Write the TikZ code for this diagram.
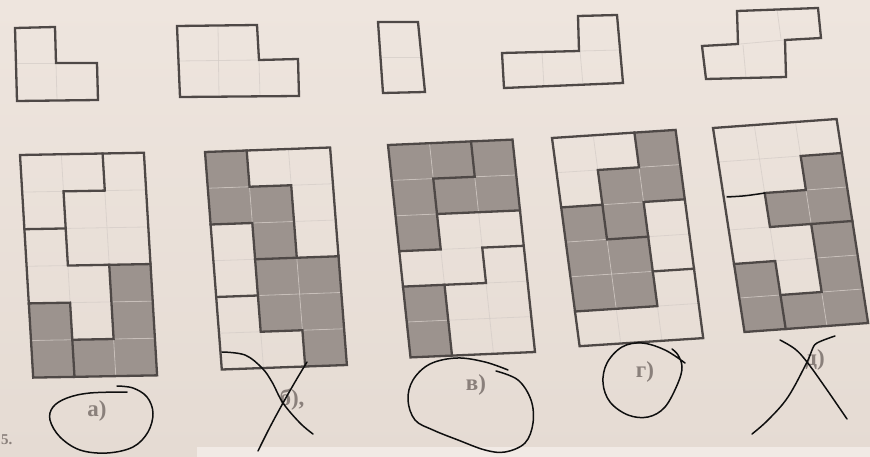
\documentclass[tikz,border=0pt]{standalone}
\usepackage{fontspec}
\setmainfont{Liberation Serif}
\definecolor{paperTop}{RGB}{238,229,222}
\definecolor{paperBot}{RGB}{229,219,211}
\definecolor{paperLight}{RGB}{241,234,229}
\definecolor{cellgrey}{RGB}{156,147,142}
\definecolor{inkline}{RGB}{78,72,70}
\definecolor{thinln}{RGB}{212,204,199}
\definecolor{printtext}{RGB}{138,128,123}
\definecolor{pen}{RGB}{15,15,15}
\tikzset{
  piecebord/.style={draw=inkline, line width=2.3pt, line join=miter, line cap=rect},
  gridthin/.style={draw=thinln, line width=0.8pt, opacity=0.7},
  greycell/.style={fill=cellgrey},
  penstroke/.style={draw=pen, line width=1.5pt, line cap=round, line join=round},
  lbl/.style={text=printtext, font=\bfseries\fontsize{23}{23}\selectfont, inner sep=0pt},
}
\begin{document}
\begin{tikzpicture}[x=1pt,y=-1pt]
\useasboundingbox (0,0) rectangle (870,457);
\shade[top color=paperTop, bottom color=paperBot] (0,0) rectangle (870,457);
\fill[paperLight] (197,447) rectangle (870,457);

% ---------- top pieces ----------
% piece 1
\draw[gridthin] (16,63) -- (56,63);
\draw[gridthin] (56,63) -- (57,100);
\draw[piecebord] (15,28) -- (55,27) -- (56,63) -- (97,63) -- (98,100) -- (17,101) -- cycle;
% piece 2
\draw[gridthin] (178,61) -- (259,60);
\draw[gridthin] (218,26) -- (219,97);
\draw[gridthin] (259,60) -- (260,97);
\draw[piecebord] (177,26) -- (257,25) -- (259,60) -- (298,59) -- (299,96) -- (180,97) -- cycle;
% piece 3
\draw[gridthin] (380,57) -- (421,57);
\draw[piecebord] (378,22) -- (418,22) -- (425,92) -- (383,93) -- cycle;
% piece 4
\draw[gridthin] (542,52) -- (544,87);
\draw[gridthin] (580,51) -- (583,85);
\draw[gridthin] (580,51) -- (620,50);
\draw[piecebord] (502,53) -- (579,51) -- (578,16) -- (617,15) -- (623,83) -- (504,88) -- cycle;
% piece 5
\draw[gridthin] (740,44) -- (785,40);
\draw[gridthin] (777,9) -- (781,39);
\draw[gridthin] (743,45) -- (746,78);
\draw[piecebord] (737,11) -- (818,8) -- (821,38) -- (785,40) -- (786,77) -- (706,79) -- (702,46) -- (738,44) -- cycle;

% ---------- grid a ----------
\begin{scope}[shift={(20pt,-155pt)}, x={(41.3pt,0.75pt)}, y={(2.2pt,-37.1pt)}]
\foreach \c/\r in {0/4,0/5,2/3,2/4,2/5,1/5}
  \fill[greycell] (\c,\r) -- ++(1,0) -- ++(0,1) -- ++(-1,0) -- cycle;
\foreach \i in {1,2} \draw[gridthin] (\i,0) -- (\i,6);
\foreach \j in {1,...,5} \draw[gridthin] (0,\j) -- (3,\j);
\draw[piecebord] (2,0) -- (2,1) -- (1,1) -- (1,3) -- (3,3);
\draw[piecebord] (0,2) -- (1,2);
\draw[piecebord] (2,3) -- (2,5) -- (1,5);
\draw[piecebord] (0,4) -- (1,4) -- (1,6);
\draw[piecebord] (0,0) -- (3,0) -- (3,6) -- (0,6) -- cycle;
\end{scope}

% ---------- grid b ----------
\begin{scope}[shift={(205pt,-152pt)}, x={(41.7pt,1.5pt)}, y={(2.8pt,-36.25pt)}]
\foreach \c/\r in {0/0,0/1,1/1,1/2,1/3,2/3,1/4,2/4,2/5}
  \fill[greycell] (\c,\r) -- ++(1,0) -- ++(0,1) -- ++(-1,0) -- cycle;
\foreach \i in {1,2} \draw[gridthin] (\i,0) -- (\i,6);
\foreach \j in {1,...,5} \draw[gridthin] (0,\j) -- (3,\j);
\draw[piecebord] (1,0) -- (1,1) -- (2,1) -- (2,3);
\draw[piecebord] (0,2) -- (1,2) -- (1,5) -- (2,5) -- (2,6);
\draw[piecebord] (1,3) -- (3,3);
\draw[piecebord] (0,4) -- (1,4);
\draw[piecebord] (0,0) -- (3,0) -- (3,6) -- (0,6) -- cycle;
\end{scope}

% ---------- grid c ----------
\begin{scope}[shift={(388pt,-145pt)}, x={(41.5pt,1.8pt)}, y={(3.75pt,-35.4pt)}]
\foreach \c/\r in {0/0,1/0,2/0,0/1,1/1,2/1,0/2,0/4,0/5}
  \fill[greycell] (\c,\r) -- ++(1,0) -- ++(0,1) -- ++(-1,0) -- cycle;
\foreach \i in {1,2} \draw[gridthin] (\i,0) -- (\i,6);
\foreach \j in {1,...,5} \draw[gridthin] (0,\j) -- (3,\j);
\draw[piecebord] (2,0) -- (2,1) -- (1,1) -- (1,3) -- (0,3);
\draw[piecebord] (1,2) -- (3,2);
\draw[piecebord] (3,3) -- (2,3) -- (2,4) -- (0,4);
\draw[piecebord] (1,4) -- (1,6);
\draw[piecebord] (0,0) -- (3,0) -- (3,6) -- (0,6) -- cycle;
\end{scope}

% ---------- grid d ----------
\begin{scope}[shift={(552pt,-138pt)}, x={(41.2pt,2.7pt)}, y={(4.6pt,-34.7pt)}]
\foreach \c/\r in {2/0,1/1,2/1,1/2,0/2,0/3,1/3,0/4,1/4}
  \fill[greycell] (\c,\r) -- ++(1,0) -- ++(0,1) -- ++(-1,0) -- cycle;
\foreach \i in {1,2} \draw[gridthin] (\i,0) -- (\i,6);
\foreach \j in {1,...,5} \draw[gridthin] (0,\j) -- (3,\j);
\draw[piecebord] (2,0) -- (2,1) -- (1,1) -- (1,3) -- (2,3);
\draw[piecebord] (0,2) -- (1,2);
\draw[piecebord] (3,2) -- (2,2) -- (2,5) -- (0,5);
\draw[piecebord] (2,4) -- (3,4);
\draw[piecebord] (0,0) -- (3,0) -- (3,6) -- (0,6) -- cycle;
\end{scope}

% ---------- grid e ----------
\begin{scope}[shift={(713pt,-128pt)}, x={(41.2pt,3pt)}, y={(5.25pt,-34pt)}]
\foreach \c/\r in {2/1,1/2,2/2,2/3,2/4,2/5,1/5,0/4,0/5}
  \fill[greycell] (\c,\r) -- ++(1,0) -- ++(0,1) -- ++(-1,0) -- cycle;
\foreach \i in {1,2} \draw[gridthin] (\i,0) -- (\i,6);
\foreach \j in {1,...,5} \draw[gridthin] (0,\j) -- (3,\j);
\draw[piecebord] (3,1) -- (2,1) -- (2,2) -- (1,2) -- (1,3) -- (3,3);
\draw[piecebord] (2,3) -- (2,5) -- (1,5);
\draw[piecebord] (0,4) -- (1,4) -- (1,6);
\draw[piecebord] (0,0) -- (3,0) -- (3,6) -- (0,6) -- cycle;
\end{scope}

% ---------- printed labels ----------
\node[lbl] (la) at (97,411) {а)};
\node[lbl] (lb) at (292,400) {б),};
\node[lbl] (lc) at (476,385) {в)};
\node[lbl] (ld) at (645,372) {г)};
\node[lbl] (le) at (815,360) {д)};
\node[lbl, anchor=west, font=\bfseries\fontsize{15}{15}\selectfont] (lnum) at (1,440) {5.};

% ---------- pen marks ----------
\draw[penstroke] (727,197) .. controls (745,196) .. (765,193);
\draw[penstroke] plot[smooth, tension=0.6] coordinates {(127,392) (90,393) (67,398) (53,407) (50,420) (60,437) (80,450) (107,453) (133,447) (148,432) (153,413) (147,397) (133,388) (117,386)};
\draw[penstroke] plot[smooth, tension=0.6] coordinates {(222,352) (245,355) (262,368) (272,382) (283,403) (300,423) (313,434)};
\draw[penstroke] plot[smooth, tension=0.6] coordinates {(307,362) (295,382) (283,403) (270,427) (258,451)};
\draw[penstroke] plot[smooth, tension=0.6] coordinates {(496,371) (518,380) (531,400) (533,423) (525,443) (505,452) (485,450) (458,440) (433,430) (415,420) (408,400) (413,380) (430,364) (457,358) (485,362) (508,370)};
\draw[penstroke] plot[smooth, tension=0.6] coordinates {(685,363) (665,350) (642,343) (622,347) (607,363) (603,383) (610,402) (628,415) (648,417) (665,407) (678,383) (682,367) (678,355) (672,349)};
\draw[penstroke] plot[smooth, tension=0.6] coordinates {(780,340) (795,349) (807,362) (825,387) (847,419)};
\draw[penstroke] plot[smooth, tension=0.6] coordinates {(835,336) (817,343) (812,350) (807,362) (788,397) (768,420) (752,434)};
\end{tikzpicture}
\end{document}
